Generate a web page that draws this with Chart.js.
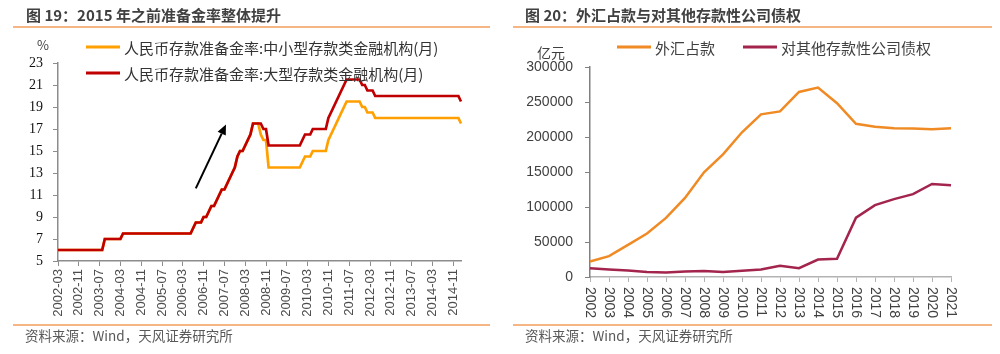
<!DOCTYPE html>
<html>
<head>
<meta charset="utf-8">
<script src="https://cdn.jsdelivr.net/npm/chart.js@4.4.1/dist/chart.umd.min.js"></script>
<style>
  body { margin: 0; width: 1000px; height: 354px; background: #fff; overflow: hidden; font-family: "Noto Sans CJK SC", sans-serif; }
  .panel { position: absolute; top: 0; width: 500px; height: 354px; }
  .panel canvas { position: absolute; left: 0; top: 0; }
  .title { position: absolute; top: 4px; font-size: 15px; font-weight: bold; color: #404040; white-space: nowrap; line-height: 22px; z-index: 2; }
  .rule { position: absolute; left: 13px; height: 2px; background: #f5b584; z-index: 2; }
  .source { position: absolute; top: 326px; font-size: 13.5px; color: #595959; line-height: 18px; white-space: nowrap; z-index: 2; }
  .unit { position: absolute; font-size: 13px; color: #404040; line-height: 16px; z-index: 2; }
</style>
</head>
<body>

<div class="panel" style="left:0">
  <div class="title" style="left:26px">图 19：2015 年之前准备金率整体提升</div>
  <div class="rule" style="top:26px; width:477px"></div>
  <div class="unit" style="left:37px; top:37px">%</div>
  <canvas id="rrrChart" width="500" height="354"></canvas>
  <div class="rule" style="top:324px; width:477px"></div>
  <div class="source" style="left:25px">资料来源：Wind，天风证券研究所</div>
</div>

<div class="panel" style="left:500px">
  <div class="title" style="left:25px">图 20：外汇占款与对其他存款性公司债权</div>
  <div class="rule" style="top:26px; width:479px"></div>
  <div class="unit" style="left:37px; top:44px; font-size:14px">亿元</div>
  <canvas id="fxChart" width="500" height="354"></canvas>
  <div class="rule" style="top:324px; width:479px"></div>
  <div class="source" style="left:25px">资料来源：Wind，天风证券研究所</div>
</div>

<script>
// DATA - 图19 存款准备金率 (月末值, %), 2002-03 ~ 2015-02
const rrrMonths = []
for (let y = 2002; y <= 2015; y++) {
  for (let m = 1; m <= 12; m++) {
    if ((y === 2002 && m < 3) || (y === 2015 && m > 2)) continue
    rrrMonths.push(y + '-' + String(m).padStart(2, '0'))
  }
}

const rrrLarge = [
  6, 6, 6, 6, 6, 6, 6, 6, 6, 6,                               // 2002
  6, 6, 6, 6, 6, 6, 6, 6, 7, 7, 7, 7,                         // 2003
  7, 7, 7, 7.5, 7.5, 7.5, 7.5, 7.5, 7.5, 7.5, 7.5, 7.5,       // 2004
  7.5, 7.5, 7.5, 7.5, 7.5, 7.5, 7.5, 7.5, 7.5, 7.5, 7.5, 7.5, // 2005
  7.5, 7.5, 7.5, 7.5, 7.5, 7.5, 8, 8.5, 8.5, 8.5, 9, 9,       // 2006
  9.5, 10, 10, 10.5, 11, 11.5, 11.5, 12, 12.5, 13, 13.5, 14.5, // 2007
  15, 15, 15.5, 16, 16.5, 17.5, 17.5, 17.5, 17.5, 17, 17, 15.5, // 2008
  15.5, 15.5, 15.5, 15.5, 15.5, 15.5, 15.5, 15.5, 15.5, 15.5, 15.5, 15.5, // 2009
  16, 16.5, 16.5, 16.5, 17, 17, 17, 17, 17, 17, 18, 18.5,     // 2010
  19, 19.5, 20, 20.5, 21, 21.5, 21.5, 21.5, 21.5, 21.5, 21.5, 21, // 2011
  21, 20.5, 20.5, 20.5, 20, 20, 20, 20, 20, 20, 20, 20,       // 2012
  20, 20, 20, 20, 20, 20, 20, 20, 20, 20, 20, 20,             // 2013
  20, 20, 20, 20, 20, 20, 20, 20, 20, 20, 20, 20,             // 2014
  20, 19.5                                                    // 2015
]

const rrrSmall = [
  6, 6, 6, 6, 6, 6, 6, 6, 6, 6,                               // 2002
  6, 6, 6, 6, 6, 6, 6, 6, 7, 7, 7, 7,                         // 2003
  7, 7, 7, 7.5, 7.5, 7.5, 7.5, 7.5, 7.5, 7.5, 7.5, 7.5,       // 2004
  7.5, 7.5, 7.5, 7.5, 7.5, 7.5, 7.5, 7.5, 7.5, 7.5, 7.5, 7.5, // 2005
  7.5, 7.5, 7.5, 7.5, 7.5, 7.5, 8, 8.5, 8.5, 8.5, 9, 9,       // 2006
  9.5, 10, 10, 10.5, 11, 11.5, 11.5, 12, 12.5, 13, 13.5, 14.5, // 2007
  15, 15, 15.5, 16, 16.5, 17.5, 17.5, 17.5, 16.5, 16, 16, 13.5, // 2008
  13.5, 13.5, 13.5, 13.5, 13.5, 13.5, 13.5, 13.5, 13.5, 13.5, 13.5, 13.5, // 2009
  14, 14.5, 14.5, 14.5, 15, 15, 15, 15, 15, 15, 16, 16.5,     // 2010
  17, 17.5, 18, 18.5, 19, 19.5, 19.5, 19.5, 19.5, 19.5, 19.5, 19, // 2011
  19, 18.5, 18.5, 18.5, 18, 18, 18, 18, 18, 18, 18, 18,       // 2012
  18, 18, 18, 18, 18, 18, 18, 18, 18, 18, 18, 18,             // 2013
  18, 18, 18, 18, 18, 18, 18, 18, 18, 18, 18, 18,             // 2014
  18, 17.5                                                    // 2015
]

// arrow annotation in data units: [month index, %]
const arrowFrom = [53, 11.6]
const arrowTo = [64.6, 17.4]

// DATA - 图20 (亿元)
const fxYears = ['2002', '2003', '2004', '2005', '2006', '2007', '2008', '2009', '2010', '2011',
                 '2012', '2013', '2014', '2015', '2016', '2017', '2018', '2019', '2020', '2021']
const fxHoldings = [22100, 29800, 45900, 62100, 84400, 113000, 149600, 175200, 206800, 232400,
                    236500, 264300, 270500, 248300, 218800, 214800, 212500, 212200, 211200, 212400]
const bankClaims = [12400, 10800, 9400, 7200, 6500, 7900, 8400, 7200, 9000, 10800,
                    16100, 12600, 25000, 26200, 84700, 102600, 111200, 118300, 132900, 131000]

const fxTicks = [0, 50000, 100000, 150000, 200000, 250000, 300000]


// PLUGINS
// legend drawn by hand so it can sit where the original has it
const lineLegend = {
  id: 'lineLegend',
  afterDraw(chart, args, opts) {
    const ctx = chart.ctx
    ctx.save()
    ctx.font = opts.font
    ctx.textBaseline = 'middle'
    opts.items.forEach(it => {
      const ds = chart.data.datasets[it.dataset]
      ctx.strokeStyle = ds.borderColor
      ctx.lineWidth = 3
      ctx.beginPath()
      ctx.moveTo(it.x, it.y)
      ctx.lineTo(it.x + opts.lineLen, it.y)
      ctx.stroke()
      ctx.fillStyle = opts.color
      ctx.fillText(ds.label, it.x + opts.lineLen + 4, it.y + 1)
    })
    ctx.restore()
  }
}

const trendArrow = {
  id: 'trendArrow',
  afterDatasetsDraw(chart) {
    const { x, y } = chart.scales
    const ctx = chart.ctx
    const x0 = x.getPixelForValue(arrowFrom[0]), y0 = y.getPixelForValue(arrowFrom[1])
    const x1 = x.getPixelForValue(arrowTo[0]), y1 = y.getPixelForValue(arrowTo[1])
    const ang = Math.atan2(y1 - y0, x1 - x0)
    const head = 10, half = 4.5
    const bx = x1 - head * Math.cos(ang), by = y1 - head * Math.sin(ang)
    ctx.save()
    ctx.strokeStyle = '#000'
    ctx.fillStyle = '#000'
    ctx.lineWidth = 2
    ctx.beginPath()
    ctx.moveTo(x0, y0)
    ctx.lineTo(bx, by)
    ctx.stroke()
    ctx.beginPath()
    ctx.moveTo(x1, y1)
    ctx.lineTo(bx + half * Math.sin(ang), by - half * Math.cos(ang))
    ctx.lineTo(bx - half * Math.sin(ang), by + half * Math.cos(ang))
    ctx.closePath()
    ctx.fill()
    ctx.restore()
  }
}

// x labels reading top to bottom
const downLabels = {
  id: 'downLabels',
  afterDraw(chart) {
    const s = chart.scales.x, ctx = chart.ctx
    ctx.save()
    ctx.font = '14px "Liberation Sans"'
    ctx.fillStyle = '#404040'
    ctx.textAlign = 'left'
    ctx.textBaseline = 'middle'
    s.ticks.forEach((t, i) => {
      ctx.save()
      ctx.translate(s.getPixelForTick(i), s.top + 10)
      ctx.rotate(Math.PI / 2)
      ctx.fillText(s.getLabelForValue(t.value), 0, 0)
      ctx.restore()
    })
    ctx.restore()
  }
}


// CHART 19
new Chart(document.getElementById('rrrChart'), {
  type: 'line',
  data: {
    labels: rrrMonths,
    datasets: [
      { label: '人民币存款准备金率:大型存款类金融机构(月)', data: rrrLarge, borderColor: '#c00000', borderWidth: 2.7 },
      { label: '人民币存款准备金率:中小型存款类金融机构(月)', data: rrrSmall, borderColor: '#ffa000', borderWidth: 2.7 }
    ]
  },
  options: {
    responsive: false,
    animation: false,
    layout: { padding: { top: 63, right: 39, bottom: 29, left: 0 } },
    elements: { point: { radius: 0 }, line: { tension: 0 } },
    plugins: {
      legend: { display: false },
      tooltip: { enabled: false },
      lineLegend: {
        font: '15px "Noto Sans CJK SC"',
        color: '#333',
        lineLen: 34,
        items: [{ dataset: 1, x: 86, y: 47 }, { dataset: 0, x: 86, y: 73 }]
      }
    },
    scales: {
      x: {
        offset: false,
        grid: { drawOnChartArea: false, tickLength: 5, color: '#8c8c8c' },
        border: { color: '#8c8c8c', width: 1.5 },
        ticks: {
          autoSkip: false, minRotation: 90, maxRotation: 90, padding: 3,
          color: '#4d4d4d', font: { family: 'Liberation Sans', size: 13 },
          callback: function (v, i) { return i % 8 === 0 ? this.getLabelForValue(v) : null }
        },
        afterFit: s => { s.height = 64 }
      },
      y: {
        min: 5, max: 23,
        grid: { drawOnChartArea: false, tickLength: 5, color: '#8c8c8c' },
        border: { color: '#8c8c8c', width: 1.5 },
        ticks: { stepSize: 2, padding: 10, color: '#111', font: { family: 'Liberation Serif', size: 14 } },
        afterFit: s => { s.width = 58 }
      }
    }
  },
  plugins: [lineLegend, trendArrow]
})


// CHART 20
new Chart(document.getElementById('fxChart'), {
  type: 'line',
  data: {
    labels: fxYears,
    datasets: [
      { label: '外汇占款', data: fxHoldings, borderColor: '#f08a24', borderWidth: 2.5 },
      { label: '对其他存款性公司债权', data: bankClaims, borderColor: '#a3244c', borderWidth: 2.5 }
    ]
  },
  options: {
    responsive: false,
    animation: false,
    layout: { padding: { top: 67, right: 49, bottom: 29, left: 0 } },
    elements: { point: { radius: 0 }, line: { tension: 0 } },
    plugins: {
      legend: { display: false },
      tooltip: { enabled: false },
      lineLegend: {
        font: '15px "Noto Sans CJK SC"',
        color: '#404040',
        lineLen: 34,
        items: [{ dataset: 0, x: 117, y: 47 }, { dataset: 1, x: 243, y: 47 }]
      }
    },
    scales: {
      x: {
        offset: false,
        grid: { drawOnChartArea: false, tickLength: 5, color: '#b3b3b3' },
        border: { color: '#b3b3b3', width: 1.5 },
        ticks: { display: false },
        afterFit: s => { s.height = 48 }
      },
      y: {
        min: 0, max: 300000,
        afterBuildTicks: s => { s.ticks = fxTicks.map(v => ({ value: v })) },
        grid: { drawOnChartArea: false, tickLength: 5, color: '#808080' },
        border: { color: '#808080', width: 1.5 },
        ticks: { padding: 12, color: '#404040', font: { family: 'Liberation Sans', size: 14 }, callback: v => String(v) },
        afterFit: s => { s.width = 90 }
      }
    }
  },
  plugins: [lineLegend, downLabels]
})
</script>
</body>
</html>
